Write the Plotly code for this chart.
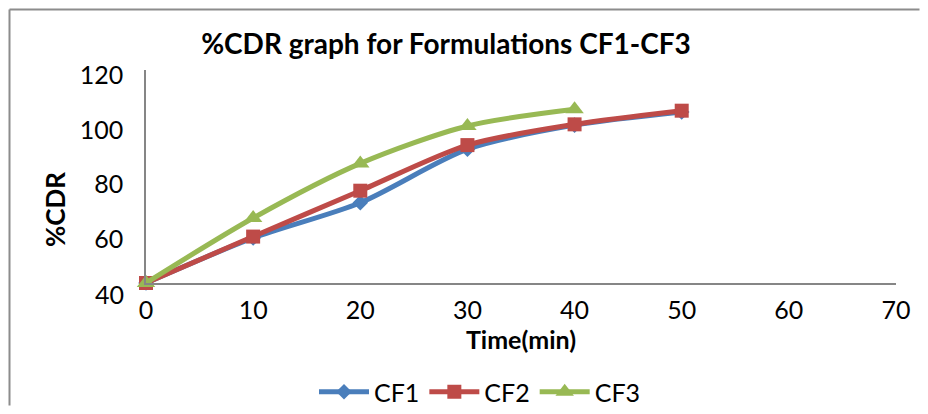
import plotly.graph_objects as go

time_min = [0, 10, 20, 30, 40, 50]
cf1 = [44, 60.5, 73.4, 93.0, 101.8, 106.6]
cf2 = [44, 61.0, 77.8, 94.5, 102.1, 107.1]
cf3 = [44, 67.8, 87.8, 101.5, 107.6]

x_ticks = [0, 10, 20, 30, 40, 50, 60, 70]
y_ticks = [40, 60, 80, 100, 120]

FONT = "Lato"
AXIS_COLOR = "#868686"

# page has an 8px body margin on every side; keep the figure inside the window
W, H = 912, 398
L, R, T, B = 138, 24, 62, 123
PW, PH = W - L - R, H - T - B
Y0, Y1 = 44, 122

fig = go.Figure()
series = [
    ("CF1", time_min, cf1, "#4A7EBB", "diamond", 12),
    ("CF2", time_min, cf2, "#BE4B48", "square", 14),
    ("CF3", time_min[:len(cf3)], cf3, "#98B954", "triangle-up", 16),
]
for name, xs, ys, color, sym, size in series:
    fig.add_trace(go.Scatter(
        x=xs, y=ys, name=name, mode="lines+markers",
        line=dict(color=color, width=5, shape="spline", smoothing=0.8),
        marker=dict(symbol=sym, size=size, color=color),
        cliponaxis=False,
    ))

fig.update_layout(
    width=W, height=H,
    margin=dict(l=L, r=R, t=T, b=B, autoexpand=False),
    paper_bgcolor="white", plot_bgcolor="white",
    font=dict(family=FONT, size=25, color="black"),
    title=dict(text="<b>%CDR graph for Formulations CF1-CF3</b>",
               x=(446 - 8) / W, xanchor="center", y=1 - (44 - 8) / H, yanchor="middle",
               font=dict(size=28, family=FONT)),
    showlegend=True,
    legend=dict(orientation="h", x=(480 - 146) / PW, xanchor="center",
                y=-(392 - 283) / PH, yanchor="middle",
                font=dict(size=25, family=FONT), itemwidth=50, tracegroupgap=0),
    xaxis=dict(range=[0, 70], tickvals=x_ticks, showgrid=False, zeroline=False,
               showline=True, linecolor=AXIS_COLOR, linewidth=1.5,
               ticks="", ticklabelstandoff=4,
               tickfont=dict(size=25),
               title=dict(text="<b>Time(min)</b>", standoff=0, font=dict(size=25))),
    yaxis=dict(range=[Y0, Y1], tickvals=y_ticks, showgrid=False, zeroline=False,
               showline=True, linecolor=AXIS_COLOR, linewidth=1.5,
               ticks="", ticklabelstandoff=16,
               tickfont=dict(size=25)),
)

# y-axis title (sits below the axis centre, as in the original)
fig.add_annotation(x=(55 - 146) / PW, y=(283 - 210) / PH, xref="paper", yref="paper",
                   text="<b>%CDR</b>", textangle=-90, showarrow=False,
                   xanchor="center", yanchor="middle", font=dict(size=26, family=FONT))

# y tick label 40 sits just below the horizontal axis line
fig.add_annotation(x=0, y=(40 - Y0) / (Y1 - Y0), xref="paper", yref="paper", text="40",
                   showarrow=False, xanchor="right", yanchor="middle", xshift=-20,
                   font=dict(size=25, family=FONT))

# chart frame: top and left edges, kept within the figure area
fx_left = (9.5 - 146) / PW
fy_top = (283 - 9.5) / PH
fx_right = (W - L - 0.5) / PW
fy_bottom = -(B - 0.5) / PH
fig.add_shape(type="line", xref="paper", yref="paper",
              x0=fx_left, x1=fx_right, y0=fy_top, y1=fy_top,
              line=dict(color="#8c8c8c", width=2))
fig.add_shape(type="line", xref="paper", yref="paper",
              x0=fx_left, x1=fx_left, y0=fy_top, y1=fy_bottom,
              line=dict(color="#8c8c8c", width=2))

fig.write_html(
    "out.html",
    post_script="document.documentElement.style.overflow='hidden';"
                "document.body.style.overflow='hidden';",
)
